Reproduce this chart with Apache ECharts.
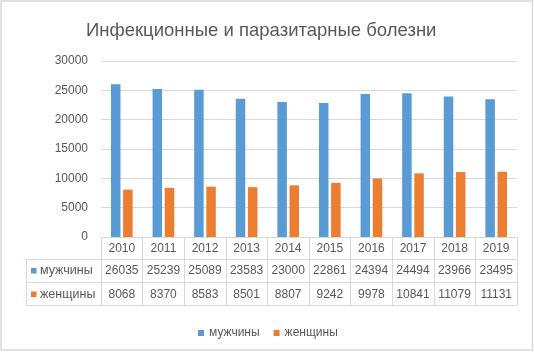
<!DOCTYPE html>
<html>
<head>
<meta charset="utf-8">
<script src="https://cdn.jsdelivr.net/npm/echarts@6/dist/echarts.min.js"></script>
<style>html,body{margin:0;padding:0;background:#fff;}#c{width:534px;height:352px;}</style>
</head>
<body>
<div id="c"></div>
<script>
var titleText = 'Инфекционные и паразитарные болезни';
var years = ['2010','2011','2012','2013','2014','2015','2016','2017','2018','2019'];
var seriesNames = ['мужчины','женщины'];
var men = [26035,25239,25089,23583,23000,22861,24394,24494,23966,23495];
var women = [8068,8370,8583,8501,8807,9242,9978,10841,11079,11131];
var yTicks = {min:0, max:30000, interval:5000};

var FONT = 'Liberation Sans';
var TXT = '#595959';
var LINE = '#d9d9d9';
var BLUE = '#5B9BD5';
var ORANGE = '#ED7D31';

var GL = 101, GR = 517, GT = 61, GB = 237;
var chart = echarts.init(document.getElementById('c'), null, {renderer:'canvas'});

function labelAxis(values, margin){
  return {
    type:'category', data: years, gridIndex:0, position:'bottom',
    axisLine:{show:false}, axisTick:{show:false}, splitLine:{show:false},
    axisLabel:{show:true, interval:0, margin:margin, verticalAlign:'middle',
      color:TXT, fontFamily:FONT, fontSize:12,
      formatter:function(v, i){ return String(values[i]); }}
  };
}

var option = {
  animation:false,
  textStyle:{fontFamily:FONT},
  title:{text:titleText, left:81, top:16,
    textStyle:{color:TXT, fontFamily:FONT, fontSize:18.5, fontWeight:'normal'}},
  legend:{data:seriesNames, left:193, top:322, icon:'rect', itemWidth:6, itemHeight:6, itemGap:14,
    textStyle:{color:TXT, fontFamily:FONT, fontSize:12}},
  grid:{left:GL, right:534-GR, top:GT, bottom:352-GB},
  xAxis:[
    {type:'category', data:years, position:'bottom',
     axisLine:{show:true, lineStyle:{color:LINE}},
     axisTick:{show:true, interval:0, length:68.5, lineStyle:{color:LINE}},
     axisLabel:{interval:0, margin:12, verticalAlign:'middle', color:TXT, fontFamily:FONT, fontSize:12}},
    labelAxis(men, 34),
    labelAxis(women, 57.5)
  ],
  yAxis:{type:'value', min:yTicks.min, max:yTicks.max, interval:yTicks.interval,
    axisLine:{show:false}, axisTick:{show:false},
    splitLine:{lineStyle:{color:LINE}},
    axisLabel:{margin:13, color:TXT, fontFamily:FONT, fontSize:12,
      formatter:function(v){ return String(v); }}},
  series:[
    {name:seriesNames[0], type:'bar', data:men, barWidth:9.5, barGap:'28%', itemStyle:{color:BLUE}},
    {name:seriesNames[1], type:'bar', data:women, barWidth:9.5, barGap:'28%', itemStyle:{color:ORANGE}}
  ],
  graphic:[
    {type:'rect', shape:{x:1, y:1, width:531.5, height:349}, style:{fill:null, stroke:LINE, lineWidth:1.5}, silent:true},
    {type:'line', shape:{x1:26, y1:259.5, x2:GR, y2:259.5}, style:{stroke:LINE, lineWidth:1}, silent:true},
    {type:'line', shape:{x1:26, y1:282.5, x2:GR, y2:282.5}, style:{stroke:LINE, lineWidth:1}, silent:true},
    {type:'line', shape:{x1:26, y1:305.5, x2:GR, y2:305.5}, style:{stroke:LINE, lineWidth:1}, silent:true},
    {type:'line', shape:{x1:26.5, y1:259, x2:26.5, y2:306}, style:{stroke:LINE, lineWidth:1}, silent:true},
    {type:'rect', shape:{x:31, y:268, width:5.5, height:5.5}, style:{fill:BLUE}, silent:true},
    {type:'rect', shape:{x:31, y:291.5, width:5.5, height:5.5}, style:{fill:ORANGE}, silent:true},
    {type:'text', x:40, y:271, style:{text:seriesNames[0], fill:TXT, font:'12.5px "Liberation Sans"', textVerticalAlign:'middle'}, silent:true},
    {type:'text', x:40, y:294.5, style:{text:seriesNames[1], fill:TXT, font:'12.5px "Liberation Sans"', textVerticalAlign:'middle'}, silent:true}
  ]
};
chart.setOption(option);
</script>
</body>
</html>
